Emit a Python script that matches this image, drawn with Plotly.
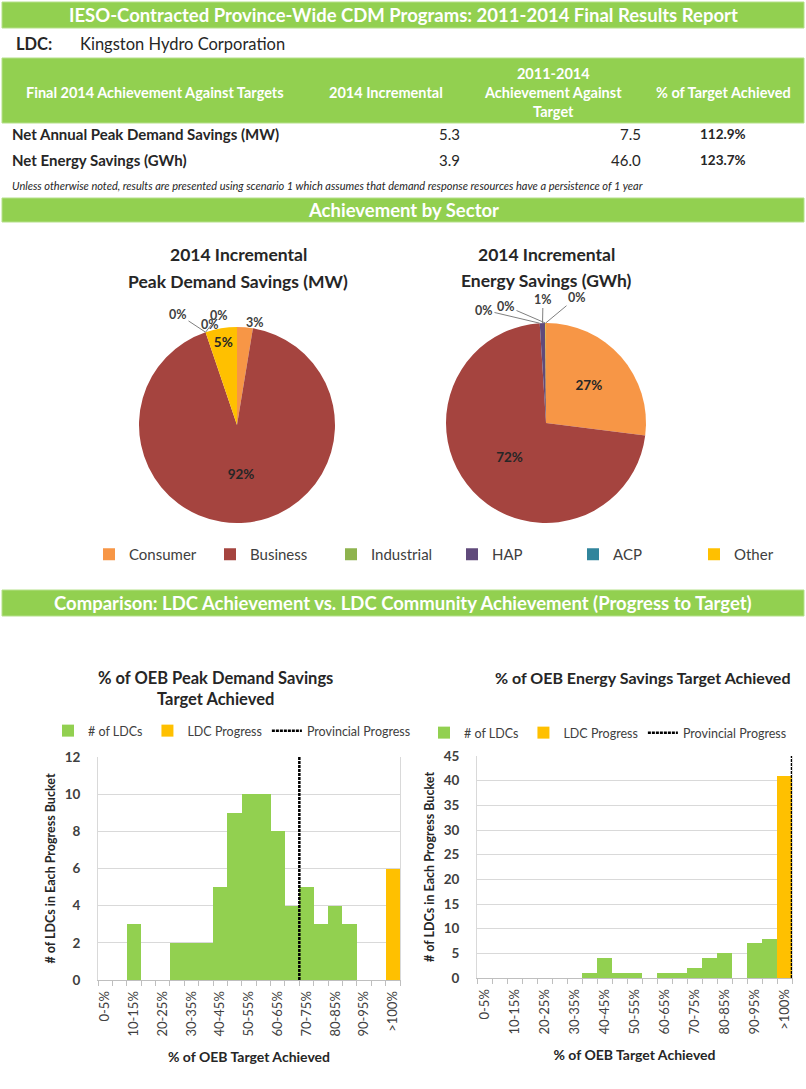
import math
import plotly.graph_objects as go

W, H = 806, 1089
def X(px): return px / W
def Y(py): return 1 - py / H

FONT = "Lato"
GREEN = "#92D050"
DARK = "#262626"
GRAY = "#404040"

# ---------------- data ----------------
main_title = "IESO-Contracted Province-Wide CDM Programs: 2011-2014 Final Results Report"
ldc_name = "Kingston Hydro Corporation"
table_headers = ["Final 2014 Achievement Against Targets", "2014 Incremental",
                 "2011-2014<br>Achievement Against<br>Target", "% of Target Achieved"]
row_labels = ["Net Annual Peak Demand Savings (MW)", "Net Energy Savings (GWh)"]
incremental_2014 = [5.3, 3.9]
achievement_2011_2014 = [7.5, 46.0]
pct_target_achieved = [112.9, 123.7]
note = ("Unless otherwise noted, results are presented using scenario 1 which assumes "
        "that demand response resources have a persistence of 1 year")

sectors = ["Consumer", "Business", "Industrial", "HAP", "ACP", "Other"]
sector_colors = ["#F79646", "#A5443F", "#8EB34E", "#604A7B", "#31859C", "#FFC000"]
peak_share = [2.6, 92.2, 0.0, 0.0, 0.0, 5.2]
energy_share = [27.0, 72.0, 0.0, 0.9, 0.0, 0.1]
peak_pie_title = ["2014 Incremental", "Peak Demand Savings (MW)"]
energy_pie_title = ["2014 Incremental", "Energy Savings (GWh)"]

buckets = ["0-5%", "5-10%", "10-15%", "15-20%", "20-25%", "25-30%", "30-35%",
           "35-40%", "40-45%", "45-50%", "50-55%", "55-60%", "60-65%", "65-70%",
           "70-75%", "75-80%", "80-85%", "85-90%", "90-95%", "95-100%", ">100%"]
peak_ldcs = [0, 0, 3, 0, 0, 2, 2, 2, 5, 9, 10, 10, 8, 4, 5, 3, 4, 3, 0, 0, 0]
peak_ldc_progress_bucket = ">100%"
peak_ldc_progress_count = 6
peak_provincial_pct = 70

energy_ldcs = [0, 0, 0, 0, 0, 0, 0, 1, 4, 1, 1, 0, 1, 1, 2, 4, 5, 0, 7, 8, 0]
energy_ldc_progress_bucket = ">100%"
energy_ldc_progress_count = 41
energy_provincial_pct = 105

peak_chart_title = "% of OEB Peak Demand Savings<br>Target Achieved"
energy_chart_title = "% of OEB Energy Savings Target Achieved"
x_title = "% of OEB Target Achieved"
y_title = "# of LDCs in Each Progress Bucket"

# ---------------- figure ----------------
fig = go.Figure()
shapes, ann = [], []

# label placement for the small slices (pixel positions of the labels)
peak_small_label_pos = {"Consumer": (244, 313), "Industrial": (178, 314),
                        "HAP": (199, 315), "ACP": (219, 315)}
energy_small_label_pos = {"Industrial": (484, 310), "ACP": (506, 306),
                          "HAP": (543, 299), "Other": (577, 297)}

def pie(values, name, cx, cy, r, show, small_pos):
    total = sum(values)
    big = [v / total >= 0.04 for v in values]
    fig.add_trace(go.Pie(
        labels=sectors, values=values, name=name, sort=False, direction="clockwise",
        rotation=0, marker=dict(colors=sector_colors, line=dict(color="white", width=0)),
        texttemplate=["<b>%{percent:.0%}</b>" if b else "" for b in big],
        textposition=["inside" if b else "none" for b in big],
        insidetextorientation="horizontal",
        insidetextfont=dict(family=FONT, size=13.5, color=DARK),
        domain=dict(x=[X(cx - r), X(cx + r)], y=[Y(cy + r), Y(cy - r)]),
        showlegend=show, legend="legend", hoverinfo="label+percent"))
    cum = 0.0
    for lab, v, b in zip(sectors, values, big):
        a0 = cum / total * 2 * math.pi
        cum += v
        a1 = cum / total * 2 * math.pi
        if b or lab not in small_pos:
            continue
        mid = (a0 + a1) / 2
        px, py = cx + r * math.sin(mid), cy - r * math.cos(mid)
        lx, ly = small_pos[lab]
        pct = round(v / total * 100)
        far = math.hypot(lx - px, ly - py) > 20
        ann.append(dict(xref="paper", yref="paper", x=X(px), y=Y(py),
                        ax=lx - px, ay=ly - py, axref="pixel", ayref="pixel",
                        text=f"<b>{pct}%</b>", showarrow=far, arrowhead=0, arrowwidth=1,
                        arrowcolor="#7F7F7F", standoff=0,
                        font=dict(family=FONT, size=12.5, color=GRAY)) if far else
                   dict(xref="paper", yref="paper", x=X(lx), y=Y(ly), text=f"<b>{pct}%</b>",
                        showarrow=False, font=dict(family=FONT, size=12.5, color=GRAY)))

pie(peak_share, "Peak", 237, 425, 98, True, peak_small_label_pos)
pie(energy_share, "Energy", 546, 423, 100, False, energy_small_label_pos)

def bar_chart(ldcs, prog_bucket, prog_count, prov_pct, xa, ya, leg, ymax):
    idx = list(range(len(buckets)))
    fig.add_trace(go.Bar(x=idx, y=ldcs, name="# of LDCs", marker_color=GREEN,
                         marker_line_width=0, xaxis=xa, yaxis=ya, legend=leg,
                         customdata=buckets, hovertemplate="%{customdata}: %{y}<extra></extra>"))
    prog = [prog_count if b == prog_bucket else 0 for b in buckets]
    fig.add_trace(go.Bar(x=idx, y=prog, name="LDC Progress", marker_color="#FFC000",
                         marker_line_width=0, xaxis=xa, yaxis=ya, legend=leg))
    xv = prov_pct / 5 - 0.5
    fig.add_trace(go.Scatter(x=[xv, xv], y=[0, ymax], mode="lines", name="Provincial Progress",
                             line=dict(color="black", width=2.5, dash="3px,1px"),
                             xaxis=xa, yaxis=ya, legend=leg))

bar_chart(peak_ldcs, peak_ldc_progress_bucket, peak_ldc_progress_count,
          peak_provincial_pct, "x", "y", "legend2", 12)
bar_chart(energy_ldcs, energy_ldc_progress_bucket, energy_ldc_progress_count,
          energy_provincial_pct, "x2", "y2", "legend3", 45)

tick_font = dict(family=FONT, size=13, color=GRAY)
def xaxis_cfg(x0, x1):
    return dict(domain=[X(x0), X(x1)], range=[-0.5, len(buckets) - 0.5],
                tickmode="array", tickvals=list(range(0, len(buckets), 2)),
                ticktext=buckets[::2], tickangle=-90, tickfont=tick_font, ticks="",
                ticklabelstandoff=5,
                showline=True, linecolor="#BFBFBF", linewidth=1, showgrid=False, zeroline=False,
                minor=dict(tickmode="linear", tick0=-0.5, dtick=1, ticks="outside",
                           ticklen=5, tickcolor="#BFBFBF", showgrid=False),
                title=dict(text=f"<b>{x_title}</b>", font=dict(family=FONT, size=14, color=DARK),
                           standoff=16), fixedrange=True)
def yaxis_cfg(y0, y1, ymax, dt):
    return dict(domain=[Y(y1), Y(y0)], range=[0, ymax], dtick=dt,
                tickfont=dict(family=FONT, size=13.5, color=GRAY, weight="bold"),
                ticklabelstandoff=14,
                showgrid=True, gridcolor="#D9D9D9", gridwidth=1.3, zeroline=False,
                showline=True, mirror=True, linecolor="#D9D9D9", ticks="",
                title=dict(text=f"<b>{y_title}</b>", font=dict(family=FONT, size=12.5, color=DARK),
                           standoff=6), fixedrange=True)

fig.update_layout(
    width=W, height=H, margin=dict(l=0, r=0, t=0, b=0, autoexpand=False),
    paper_bgcolor="white", plot_bgcolor="white",
    font=dict(family=FONT, color=DARK),
    barmode="overlay", bargap=0,
    xaxis=xaxis_cfg(98, 400), yaxis=yaxis_cfg(757, 980, 12, 2),
    xaxis2=dict(xaxis_cfg(477, 792), anchor="y2"), yaxis2=dict(yaxis_cfg(756, 978, 45, 5), anchor="x2"),
    legend=dict(orientation="h", x=X(89), y=Y(538), xanchor="left", yanchor="top",
                font=dict(family=FONT, size=15, color=GRAY), entrywidth=76, itemwidth=30,
                bgcolor="rgba(0,0,0,0)", traceorder="normal"),
    legend2=dict(orientation="h", x=X(48), y=Y(716), xanchor="left", yanchor="top",
                 font=dict(family=FONT, size=12.5, color=GRAY), itemwidth=30,
                 bgcolor="rgba(0,0,0,0)", traceorder="normal"),
    legend3=dict(orientation="h", x=X(424), y=Y(718), xanchor="left", yanchor="top",
                 font=dict(family=FONT, size=12.5, color=GRAY), itemwidth=30,
                 bgcolor="rgba(0,0,0,0)", traceorder="normal"),
    showlegend=True,
)

def banner(y0, y1, text, size=18.5):
    shapes.append(dict(type="rect", xref="paper", yref="paper", x0=X(2), x1=X(804),
                       y0=Y(y1), y1=Y(y0), fillcolor=GREEN, line=dict(color="#B5E08A", width=1),
                       layer="below"))
    if text:
        ann.append(dict(xref="paper", yref="paper", x=X(403), y=Y((y0 + y1) / 2),
                        text=f"<b>{text}</b>", showarrow=False,
                        xanchor="center", yanchor="middle",
                        font=dict(family=FONT, size=size, color="white")))

def txt(x, y, text, size=13, color=DARK, xanchor="left", bold=False, italic=False):
    t = text
    if bold: t = f"<b>{t}</b>"
    if italic: t = f"<i>{t}</i>"
    ann.append(dict(xref="paper", yref="paper", x=X(x), y=Y(y), text=t, showarrow=False,
                    xanchor=xanchor, yanchor="middle",
                    font=dict(family=FONT, size=size, color=color)))

def ctitle(x, y, text, size):
    ann.append(dict(xref="paper", yref="paper", x=X(x), y=Y(y), text=f"<b>{text}</b>",
                    showarrow=False, xanchor="center", yanchor="middle", align="center",
                    font=dict(family=FONT, size=size, color=DARK)))

banner(2, 28, main_title, 18.5)
txt(14, 44, "LDC:", 16.5, bold=True)
txt(78, 44, ldc_name, 16.5)
banner(58, 123, None)
hx = [155, 386, 553, 723]
for hxi, h in zip(hx, table_headers):
    ann.append(dict(xref="paper", yref="paper", x=X(hxi), y=Y(92), text=f"<b>{h}</b>",
                    showarrow=False, xanchor="center", yanchor="middle", align="center",
                    font=dict(family=FONT, size=14.5, color="white")))
for i, (lab, a, b, p) in enumerate(zip(row_labels, incremental_2014, achievement_2011_2014,
                                       pct_target_achieved)):
    yy = 134 + 26 * i
    txt(10, yy, lab, 15, bold=True)
    txt(462, yy, f"{a:.1f}", 15, xanchor="right")
    txt(643, yy, f"{b:.1f}", 15, xanchor="right")
    txt(723, yy, f"{p:.1f}%", 13.5, xanchor="center", bold=True)
txt(10, 186, note, 11, italic=True)
banner(198, 222, "Achievement by Sector", 18.5)
ctitle(238, 254, peak_pie_title[0], 17.5)
ctitle(238, 282, peak_pie_title[1], 17.5)
ctitle(546, 254, energy_pie_title[0], 17.5)
ctitle(546, 280, energy_pie_title[1], 17.5)
banner(590, 616, "Comparison: LDC Achievement vs. LDC Community Achievement (Progress to Target)", 18.5)
ctitle(216, 688, peak_chart_title, 16.5)
ctitle(642, 677, energy_chart_title, 16)

fig.update_layout(shapes=shapes, annotations=ann)
fig.write_html("out.html", config={"displayModeBar": False},
               post_script="document.body.style.margin='0';document.body.style.overflow='hidden';")
